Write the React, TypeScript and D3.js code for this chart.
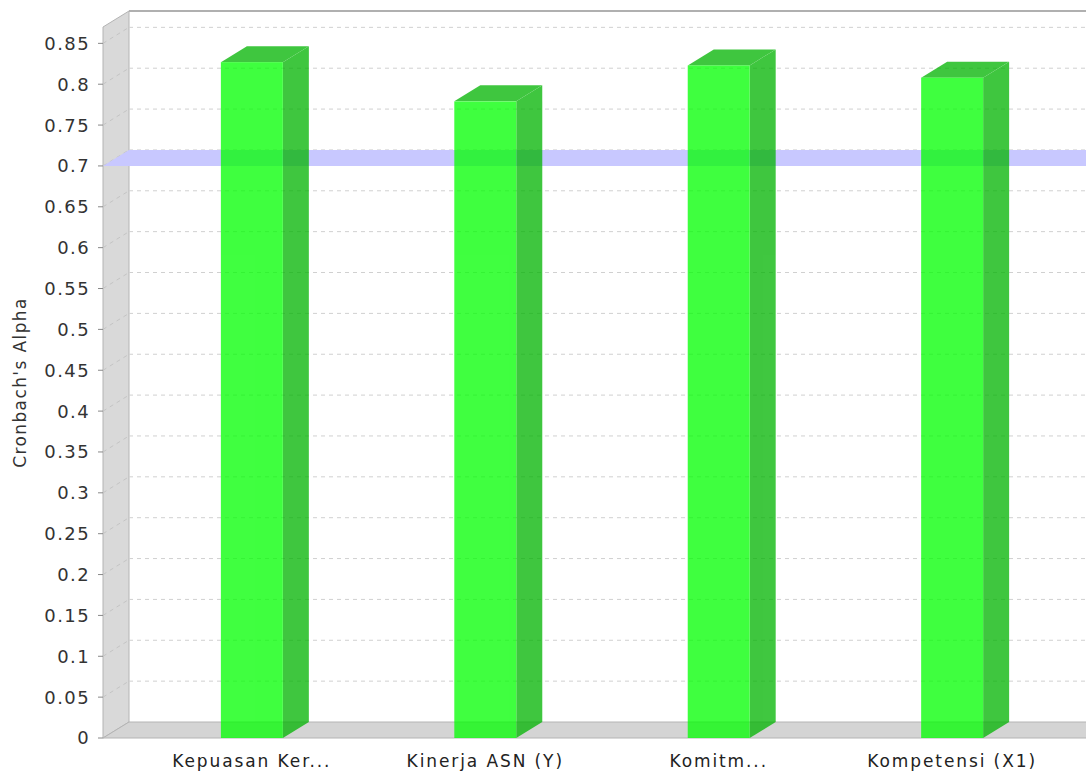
import * as React from "react";
import * as d3 from "d3";

const categories = ["Kepuasan Ker...", "Kinerja ASN (Y)", "Komitm...", "Kompetensi (X1)"];
const alphaValues = [0.827, 0.779, 0.823, 0.808];
const yTickValues = [0, 0.05, 0.1, 0.15, 0.2, 0.25, 0.3, 0.35, 0.4, 0.45, 0.5, 0.55, 0.6, 0.65, 0.7, 0.75, 0.8, 0.85];
const thresholdValue = 0.7;
const yLabel = "Cronbach's Alpha";

const WIDTH = 1086;
const HEIGHT = 775;
const DX = 26; // 3d depth
const DY = 16;

export default function App() {
  const left = 103;
  const right = 1101;
  const yScale = d3.scaleLinear().domain([0, 0.87]).range([738, 27]);
  const xScale = d3
    .scaleBand<string>()
    .domain(categories)
    .range([left, right])
    .paddingInner(0.7345)
    .paddingOuter(0.505);

  const y0 = yScale(0);
  const yTop = yScale(0.87);
  const pts = (p: [number, number][]) => p.map((d) => d.join(",")).join(" ");

  const yM = yScale(thresholdValue);

  return (
    <svg
      width={WIDTH}
      height={HEIGHT}
      style={{ position: "absolute", left: 0, top: 0, background: "#fff" }}
      fontFamily="DejaVu Sans, sans-serif"
    >
      {/* left wall */}
      <polygon
        points={pts([
          [left, yTop],
          [left + DX, yTop - DY],
          [left + DX, y0 - DY],
          [left, y0],
        ])}
        fill="#d9d9d9"
        stroke="#b4b4b4"
        strokeWidth={1}
      />
      {/* floor */}
      <polygon
        points={pts([
          [left, y0],
          [left + DX, y0 - DY],
          [WIDTH + 40, y0 - DY],
          [WIDTH + 40, y0],
        ])}
        fill="#d4d4d4"
        stroke="#b4b4b4"
        strokeWidth={1}
      />
      {/* back border */}
      <line x1={left + DX} x2={WIDTH} y1={yTop - DY} y2={yTop - DY} stroke="#b0b0b0" strokeWidth={2} />

      {/* gridlines */}
      {yTickValues.slice(1).map((t) => (
        <g key={t}>
          <line
            x1={left + DX}
            x2={WIDTH}
            y1={yScale(t) - DY}
            y2={yScale(t) - DY}
            stroke="#d0d0d0"
            strokeDasharray="4,4"
          />
          <line
            x1={left}
            x2={left + DX}
            y1={yScale(t)}
            y2={yScale(t) - DY}
            stroke="#c4c4c4"
            strokeDasharray="4,4"
          />
        </g>
      ))}

      {/* threshold marker */}
      <polygon
        points={pts([
          [left, yM],
          [left + DX, yM - DY],
          [WIDTH + 40, yM - DY],
          [WIDTH + 40, yM],
        ])}
        fill="#c8c8ff"
      />

      {/* bars */}
      {categories.map((c, i) => {
        const x0 = xScale(c) as number;
        const x1 = x0 + xScale.bandwidth();
        const yv = yScale(alphaValues[i]);
        return (
          <g key={c} opacity={0.75}>
            <polygon
              points={pts([
                [x1, yv],
                [x1 + DX, yv - DY],
                [x1 + DX, y0 - DY],
                [x1, y0],
              ])}
              fill="#00b400"
            />
            <polygon
              points={pts([
                [x0, yv],
                [x0 + DX, yv - DY],
                [x1 + DX, yv - DY],
                [x1, yv],
              ])}
              fill="#00b400"
            />
            <rect x={x0} y={yv} width={x1 - x0} height={y0 - yv} fill="#00ff00" />
          </g>
        );
      })}

      {/* y axis */}
      <g fontSize={18} fill="#333" textAnchor="end">
        {yTickValues.map((t) => (
          <g key={t} transform={`translate(${left},${yScale(t)})`}>
            <line x1={-5} x2={0} stroke="#888" />
            <text x={-13} dy="0.36em" letterSpacing={1.4}>
              {String(+t.toFixed(2))}
            </text>
          </g>
        ))}
      </g>
      <text
        transform={`translate(26,${(y0 + yTop) / 2}) rotate(-90)`}
        textAnchor="middle"
        fontSize={17}
        letterSpacing={1.4}
        fill="#333"
      >
        {yLabel}
      </text>

      {/* category labels */}
      <g fontSize={17} fill="#222" textAnchor="middle" letterSpacing={1.9}>
        {categories.map((c) => (
          <text key={c} x={(xScale(c) as number) + xScale.bandwidth() / 2} y={767}>
            {c}
          </text>
        ))}
      </g>
    </svg>
  );
}
